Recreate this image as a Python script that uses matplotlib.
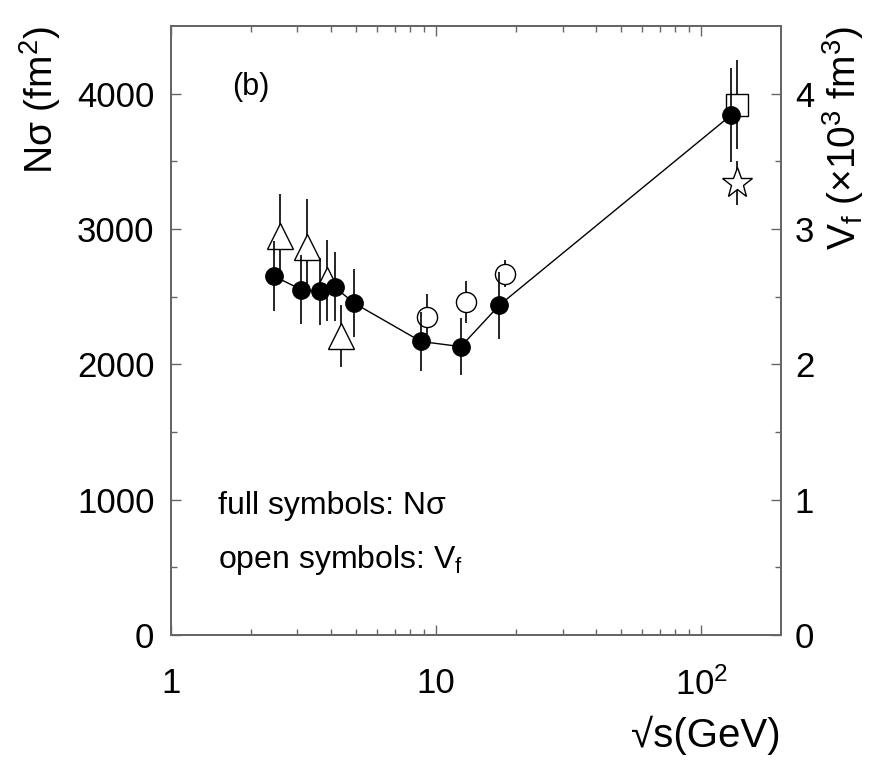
import matplotlib
matplotlib.use('Agg')
import matplotlib.pyplot as plt
from matplotlib.ticker import FixedLocator, NullFormatter

plt.rcParams['font.family'] = ['Liberation Sans', 'DejaVu Sans']
plt.rcParams['mathtext.fontset'] = 'custom'
plt.rcParams['mathtext.rm'] = 'Liberation Sans'
plt.rcParams['mathtext.it'] = 'Liberation Sans'

# N*sigma (full symbols), fm^2
ns_x = [2.45, 3.1, 3.64, 4.14, 4.9, 8.77, 12.4, 17.3, 130]
ns_y = [2651, 2552, 2539, 2572, 2453, 2169, 2131, 2436, 3843]
ns_err = [260, 255, 245, 255, 250, 220, 210, 245, 345]

# V_f (open symbols), 10^3 fm^3
tri_x = [2.58, 3.27, 3.86, 4.37]
tri_y = [2.95, 2.87, 2.62, 2.21]
tri_err = [0.31, 0.35, 0.30, 0.23]

circ_x = [9.26, 13.0, 18.2]
circ_y = [2.35, 2.46, 2.67]
circ_err = [0.17, 0.155, 0.10]

sq_x = [136]
sq_y = [3.92]
sq_err = [0.33]

star_x = [136]
star_y = [3.34]
star_err = [0.16]

xticks = [1, 10, 100]
xticklabels = ['1', '10', r'10$^{2}$']

spine_col = '#666666'

fig = plt.figure(figsize=(8.7, 7.65), dpi=100)
ax = fig.add_axes([0.1966, 0.1699, 0.701, 0.7961])
ax2 = ax.twinx()

# open symbols on the right axis
ebkw = dict(ls='none', color='black', elinewidth=1.2, capsize=0, mfc='white', mec='black', mew=1.0)
ax2.errorbar(tri_x, tri_y, yerr=tri_err, marker='^', ms=18.5, **ebkw)
ax2.errorbar(circ_x, circ_y, yerr=circ_err, marker='o', ms=14.5, **ebkw)
ax2.errorbar(sq_x, sq_y, yerr=sq_err, marker='s', ms=15.5, **ebkw)
ax2.errorbar(star_x, star_y, yerr=star_err, marker='*', ms=23, **ebkw)

# full symbols on the left axis, drawn on top
ax.errorbar(ns_x, ns_y, yerr=ns_err, marker='o', ms=12.5, color='black', mfc='black',
            lw=1.0, elinewidth=1.2, capsize=0)
ax.set_zorder(ax2.get_zorder() + 1)
ax.patch.set_visible(False)

ax.set_xscale('log')
ax.set_xlim(1, 200)
ax.set_ylim(0, 4500)
ax2.set_ylim(0, 4.5)

ax.xaxis.set_major_locator(FixedLocator(xticks))
ax.set_xticklabels(xticklabels)
minors = [m * d for d in (1, 10, 100) for m in range(2, 10) if m * d < 200]
ax.xaxis.set_minor_locator(FixedLocator(minors))
ax.xaxis.set_minor_formatter(NullFormatter())

ax.set_yticks([0, 1000, 2000, 3000, 4000])
ax.set_yticks([500, 1500, 2500, 3500], minor=True)
ax2.set_yticks([0, 1, 2, 3, 4])
ax2.set_yticklabels(['0', '1', '2', '3', '4'])
ax2.set_yticks([0.5, 1.5, 2.5, 3.5], minor=True)

ax.tick_params(which='both', direction='in', top=True, right=False, color=spine_col, width=1.0)
ax.tick_params(which='major', length=7, labelsize=25)
ax.tick_params(which='minor', length=4)
ax.tick_params(axis='x', which='major', pad=23)
ax.tick_params(axis='y', which='major', pad=12)
ax2.tick_params(which='both', direction='in', color=spine_col, width=1.0)
ax2.tick_params(which='major', length=7, labelsize=25, pad=10)
ax2.tick_params(which='minor', length=4)

for a in (ax, ax2):
    for s in a.spines.values():
        s.set_color(spine_col)
        s.set_linewidth(1.4)

ax.set_xlabel('√s(GeV)', fontsize=29, loc='right', labelpad=10)
ax.set_ylabel(r'Nσ (fm$^2$)', fontsize=28, loc='top', labelpad=10)
ax2.set_ylabel(r'V$_f$ ($\times$10$^3$ fm$^3$)', fontsize=28, loc='top', labelpad=4)

ax.text(0.10, 0.887, '(b)', transform=ax.transAxes, fontsize=22, va='baseline')
ax.text(0.077, 0.199, 'full symbols: Nσ', transform=ax.transAxes, fontsize=23, va='baseline')
ax.text(0.077, 0.110, r'open symbols: V$_f$', transform=ax.transAxes, fontsize=23, va='baseline')

fig.savefig('out.png', dpi=100)
